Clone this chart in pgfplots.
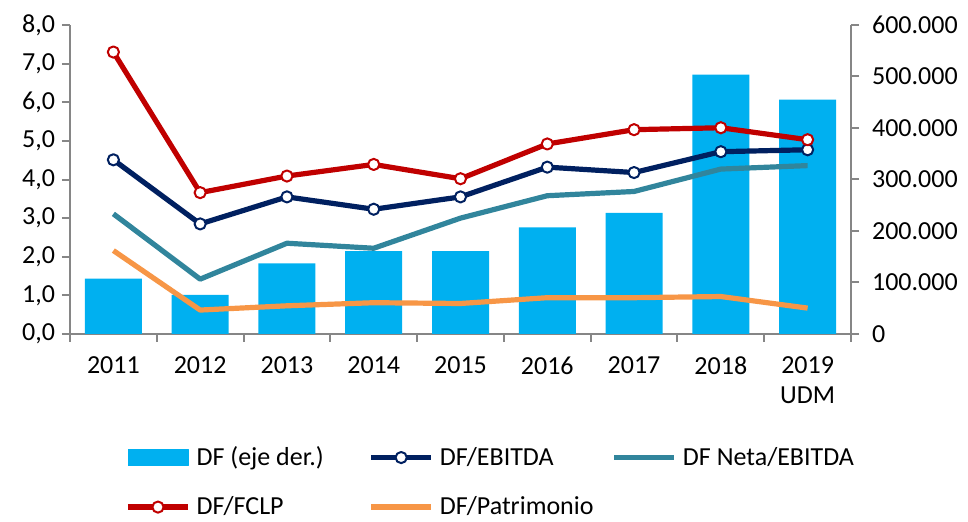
\documentclass[border=0pt]{standalone}
\usepackage{pgfplots}
\pgfplotsset{compat=1.18}
\usepackage{fontspec}
\setmainfont{Carlito}
\definecolor{cbar}{HTML}{00B0F0}
\definecolor{cnavy}{HTML}{002060}
\definecolor{cteal}{HTML}{31859C}
\definecolor{cred}{HTML}{C00000}
\definecolor{corange}{HTML}{F79646}
\definecolor{cax}{HTML}{868686}
\newcommand{\lw}[1]{\makebox[83pt][l]{#1}}
\begin{document}
\begin{tikzpicture}[font=\fontsize{13pt}{15pt}\selectfont]
\path (-35pt,-92pt) rectangle (449pt,167pt);
\pgfplotsset{
  common/.style={
    at={(0pt,0pt)}, anchor=south west, scale only axis,
    width=390.5pt, height=154.5pt, xmin=-0.5, xmax=8.5,
    axis line style={draw=cax, line width=1pt},
    every tick/.style={draw=cax, line width=1pt},
    tick align=outside, major tick length=4pt, minor tick length=4pt,
    /pgf/number format/assume math mode=true,
    ticklabel style={font=\fontsize{13pt}{15pt}\selectfont},
  }
}
\begin{axis}[common,
  ymin=0, ymax=600000,
  axis y line*=right, axis x line*=bottom,
  ytick={0,100000,...,600000},
  scaled y ticks=false,
  yticklabel style={xshift=3pt, /pgf/number format/fixed, /pgf/number format/precision=0, /pgf/number format/1000 sep={.}},
  xtick={0,...,8},
  xticklabels={2011,2012,2013,2014,2015,2016,2017,2018,{2019\\UDM}},
  xticklabel style={align=center, yshift=-4pt},
  major x tick style={draw=none},
  minor xtick={-0.5,0.5,...,8.5},
]
\addplot[ybar, bar width=28.5pt, fill=cbar, draw=none] coordinates {
(0,107500) (1,76000) (2,137000) (3,160700) (4,160700) (5,207000) (6,235000) (7,503500) (8,455000)};
\end{axis}
\begin{axis}[common,
  ymin=0, ymax=8,
  axis y line*=left, axis x line=none,
  ytick={0,1,...,8},
  yticklabel style={/pgf/number format/fixed, /pgf/number format/fixed zerofill, /pgf/number format/precision=1, /pgf/number format/use comma},
  line join=round,
  legend columns=3,
  legend cell align=left,
  legend style={at={(0.0704,-0.35)}, anchor=north west, draw=none, fill=none,
    row sep=10pt, inner sep=0pt,
    nodes={inner xsep=3pt, inner ysep=2pt,
      font=\fontsize{13pt}{15pt}\selectfont}},
  legend image code/.code={\draw[mark repeat=2,mark phase=2,#1] plot coordinates {(0pt,0pt) (15pt,0pt) (30pt,0pt)};},
]
\addlegendimage{legend image code/.code={\fill[cbar] (0pt,-4pt) rectangle (30pt,4pt);}}
\addlegendentry{\lw{DF (eje der.)}}
\addplot[cnavy, line width=2.6pt, mark=*, mark size=2.8pt, mark options={fill=white, draw=cnavy, line width=1pt}] coordinates {
(0,4.51) (1,2.85) (2,3.55) (3,3.23) (4,3.55) (5,4.32) (6,4.18) (7,4.72) (8,4.77)};
\addlegendentry{\lw{DF/EBITDA}}
\addplot[cteal, line width=2.6pt] coordinates {
(0,3.11) (1,1.42) (2,2.35) (3,2.22) (4,3.00) (5,3.58) (6,3.69) (7,4.27) (8,4.36)};
\addlegendentry{DF Neta/EBITDA}
\addplot[cred, line width=2.6pt, mark=*, mark size=2.8pt, mark options={fill=white, draw=cred, line width=1pt}] coordinates {
(0,7.30) (1,3.66) (2,4.09) (3,4.39) (4,4.02) (5,4.92) (6,5.29) (7,5.34) (8,5.03)};
\addlegendentry{\lw{DF/FCLP}}
\addplot[corange, line width=2.6pt] coordinates {
(0,2.16) (1,0.62) (2,0.73) (3,0.81) (4,0.79) (5,0.94) (6,0.94) (7,0.97) (8,0.67)};
\addlegendentry{\lw{DF/Patrimonio}}
\end{axis}
\end{tikzpicture}
\end{document}
